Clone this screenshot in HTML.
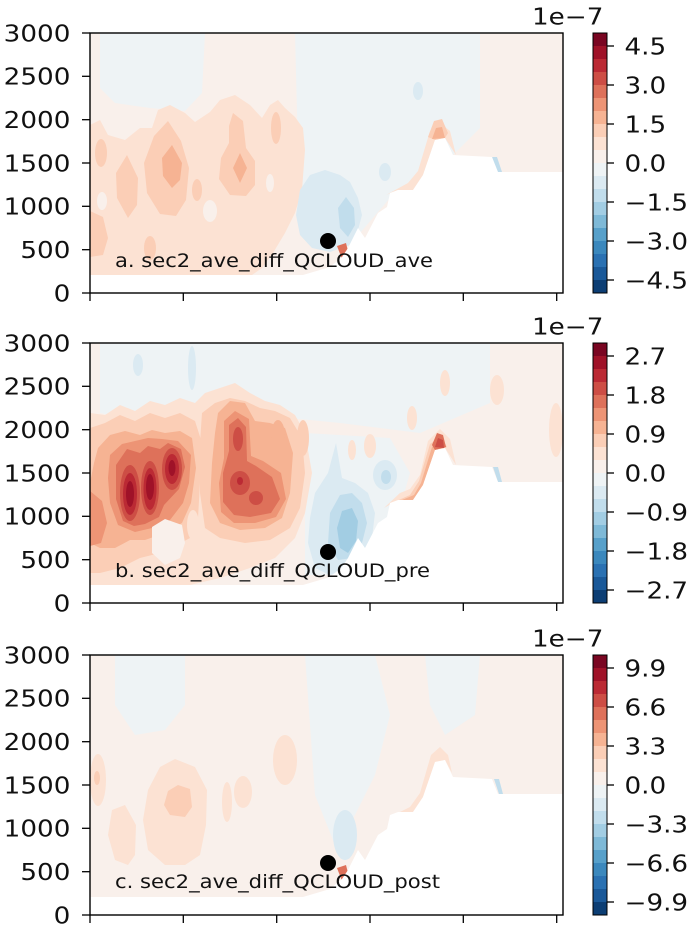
<!DOCTYPE html>
<html><head><meta charset="utf-8">
<style>
html,body{margin:0;padding:0;background:#fff;}
svg{display:block;}
text{font-family:"DejaVu Sans","Liberation Sans",sans-serif;fill:#111;}
.c0{fill:#0c3e74}.c1{fill:#1a5999}.c2{fill:#2a71b2}.c3{fill:#3b88bd}.c4{fill:#57a0ca}
.c5{fill:#7eb9d7}.c6{fill:#a2cde3}.c7{fill:#c1ddec}.c8{fill:#dbeaf2}.c9{fill:#eef3f5}
.c10{fill:#f9f0eb}.c11{fill:#fce2d3}.c12{fill:#fbceb6}.c13{fill:#f6b393}.c14{fill:#ed9475}
.c15{fill:#de715a}.c16{fill:#cd4e45}.c17{fill:#bb2a34}.c18{fill:#9f1228}.c19{fill:#7a0622}
.ax{fill:none;stroke:#000;stroke-width:1.4}
.tk{stroke:#000;stroke-width:1.3}
.tl{font-size:23px}
.an{font-size:19px}
</style></head>
<body>
<svg width="700" height="935" viewBox="0 0 700 935" xmlns="http://www.w3.org/2000/svg">
<defs>
<clipPath id="cl"><rect x="0" y="0" width="473" height="260"/></clipPath>
<g id="mask">
<polygon fill="#fff" points="213,242 240,234 252,224 258,215 268,195 275,205 288,180 297,174 300,160 308,157 323,157 333,142 345,107 355,105 363,122 402,124 408,139 473,139 473,262 0,262 0,242"/>
</g>
<g id="cbar">
<rect x="0" y="0" width="14" height="13" class="c19"/><rect x="0" y="13" width="14" height="13" class="c18"/>
<rect x="0" y="26" width="14" height="13" class="c17"/><rect x="0" y="39" width="14" height="13" class="c16"/>
<rect x="0" y="52" width="14" height="13" class="c15"/><rect x="0" y="65" width="14" height="13" class="c14"/>
<rect x="0" y="78" width="14" height="13" class="c13"/><rect x="0" y="91" width="14" height="13" class="c12"/>
<rect x="0" y="104" width="14" height="13" class="c11"/><rect x="0" y="117" width="14" height="13" class="c10"/>
<rect x="0" y="130" width="14" height="13" class="c9"/><rect x="0" y="143" width="14" height="13" class="c8"/>
<rect x="0" y="156" width="14" height="13" class="c7"/><rect x="0" y="169" width="14" height="13" class="c6"/>
<rect x="0" y="182" width="14" height="13" class="c5"/><rect x="0" y="195" width="14" height="13" class="c4"/>
<rect x="0" y="208" width="14" height="13" class="c3"/><rect x="0" y="221" width="14" height="13" class="c2"/>
<rect x="0" y="234" width="14" height="13" class="c1"/><rect x="0" y="247" width="14" height="13" class="c0"/>
<rect x="0" y="0" width="14" height="260" fill="none" stroke="#000" stroke-width="1"/>
<line class="tk" x1="14" y1="13" x2="21" y2="13"/><line class="tk" x1="14" y1="52" x2="21" y2="52"/>
<line class="tk" x1="14" y1="91" x2="21" y2="91"/><line class="tk" x1="14" y1="130" x2="21" y2="130"/>
<line class="tk" x1="14" y1="169" x2="21" y2="169"/><line class="tk" x1="14" y1="208" x2="21" y2="208"/>
<line class="tk" x1="14" y1="247" x2="21" y2="247"/>
</g>
<g id="frame">
<rect class="ax" x="0" y="0" width="473" height="260"/>
<line class="tk" x1="0" y1="260" x2="0" y2="268"/><line class="tk" x1="93.3" y1="260" x2="93.3" y2="268"/>
<line class="tk" x1="186.7" y1="260" x2="186.7" y2="268"/><line class="tk" x1="280" y1="260" x2="280" y2="268"/>
<line class="tk" x1="373.3" y1="260" x2="373.3" y2="268"/><line class="tk" x1="466.7" y1="260" x2="466.7" y2="268"/>
<line class="tk" x1="0" y1="0" x2="-8" y2="0"/><line class="tk" x1="0" y1="43.3" x2="-8" y2="43.3"/>
<line class="tk" x1="0" y1="86.7" x2="-8" y2="86.7"/><line class="tk" x1="0" y1="130" x2="-8" y2="130"/>
<line class="tk" x1="0" y1="173.3" x2="-8" y2="173.3"/><line class="tk" x1="0" y1="216.7" x2="-8" y2="216.7"/>
<line class="tk" x1="0" y1="260" x2="-8" y2="260"/>
</g>
</defs>

<!-- ================= PANEL 1 ================= -->
<g transform="translate(90,33)">
<g clip-path="url(#cl)">
<rect x="0" y="0" width="473" height="260" class="c10"/>
<polygon class="c9" points="10,0 115,0 112,60 95,78 60,75 25,70 10,55"/>
<polygon class="c9" points="205,0 390,0 390,95 360,125 320,148 300,165 270,200 240,215 215,200 208,120"/>
<!-- orange region -->
<polygon class="c11" points="0,92 10,87 18,102 35,107 50,95 62,95 68,77 80,72 95,80 105,89 120,79 130,67 145,62 160,72 172,85 180,72 188,67 195,75 205,84 213,95 215,117 212,157 205,180 195,200 183,220 172,235 162,242 0,242"/>
<ellipse class="c10" cx="12" cy="168" rx="5" ry="9"/>
<ellipse class="c10" cx="120" cy="178" rx="7" ry="11"/>
<ellipse class="c10" cx="180" cy="150" rx="4" ry="9"/>
<ellipse class="c12" cx="11" cy="120" rx="6" ry="14"/>
<polygon class="c12" points="37,122 48,145 47,172 38,185 27,165 26,140"/>
<polygon class="c12" points="78,88 91,108 99,135 96,167 86,183 70,181 57,160 54,130 64,103"/>
<polygon class="c13" points="82,112 92,130 90,147 82,155 73,143 72,125"/>
<polygon class="c12" points="143,80 153,88 156,115 165,128 165,152 156,163 140,162 129,146 131,125 139,110 139,93"/>
<polygon class="c13" points="150,120 157,135 150,150 143,135"/>
<ellipse class="c12" cx="186" cy="95" rx="5" ry="16"/>
<polygon class="c12" points="0,178 13,184 18,205 13,222 0,224"/>
<ellipse class="c12" cx="107" cy="157" rx="5" ry="11"/>
<ellipse class="c12" cx="60" cy="215" rx="6" ry="12"/>
<!-- blue -->
<polygon class="c8" points="210,157 220,142 235,137 250,142 260,149 268,165 272,182 268,197 260,212 240,219 222,215 210,202 206,182"/>
<polygon class="c7" points="256,164 264,175 265,192 258,204 250,195 248,175"/>
<ellipse class="c8" cx="295" cy="139" rx="6" ry="9"/>
<ellipse class="c8" cx="328" cy="58" rx="5" ry="9"/>
<!-- slope strip -->
<polygon class="c11" points="296,162 318,150 328,138 340,98 350,90 360,98 366,122 355,105 345,107 333,142 323,157 308,157"/>
<polygon class="c12" points="338,104 344,88 352,86 358,100 355,105 345,107"/>
<polygon class="c13" points="342,106 346,95 352,94 355,105"/>
<polygon class="c7" points="402,124 407,124 412,139 407,139"/>
<polygon class="c15" points="247,213 256,210 259,222 252,226"/>
<use href="#mask"/>
</g>
<circle cx="238" cy="208" r="8" fill="#000"/>
<text class="an" x="25" y="234" textLength="318" lengthAdjust="spacingAndGlyphs">a. sec2_ave_diff_QCLOUD_ave</text>
<use href="#frame"/>
</g>
<g transform="translate(593,33)"><use href="#cbar"/></g>
<text class="tl" x="532" y="24.5" textLength="71.4" lengthAdjust="spacingAndGlyphs">1e−7</text>
<text class="tl" x="624.5" y="54.3" textLength="41.7" lengthAdjust="spacingAndGlyphs">4.5</text>
<text class="tl" x="624.5" y="93.3" textLength="41.7" lengthAdjust="spacingAndGlyphs">3.0</text>
<text class="tl" x="624.5" y="132.3" textLength="41.7" lengthAdjust="spacingAndGlyphs">1.5</text>
<text class="tl" x="624.5" y="171.3" textLength="41.7" lengthAdjust="spacingAndGlyphs">0.0</text>
<text class="tl" x="624.5" y="210.3" textLength="63.6" lengthAdjust="spacingAndGlyphs">−1.5</text>
<text class="tl" x="624.5" y="249.3" textLength="63.6" lengthAdjust="spacingAndGlyphs">−3.0</text>
<text class="tl" x="624.5" y="288.3" textLength="63.6" lengthAdjust="spacingAndGlyphs">−4.5</text>
<text class="tl" x="3.7" y="41.3" textLength="66.7" lengthAdjust="spacingAndGlyphs">3000</text>
<text class="tl" x="3.7" y="84.6" textLength="66.7" lengthAdjust="spacingAndGlyphs">2500</text>
<text class="tl" x="3.7" y="128" textLength="66.7" lengthAdjust="spacingAndGlyphs">2000</text>
<text class="tl" x="3.7" y="171.3" textLength="66.7" lengthAdjust="spacingAndGlyphs">1500</text>
<text class="tl" x="3.7" y="214.6" textLength="66.7" lengthAdjust="spacingAndGlyphs">1000</text>
<text class="tl" x="20.4" y="258" textLength="50" lengthAdjust="spacingAndGlyphs">500</text>
<text class="tl" x="53.7" y="301.3" textLength="16.7" lengthAdjust="spacingAndGlyphs">0</text>

<!-- ================= PANEL 2 ================= -->
<g transform="translate(90,343)">
<g clip-path="url(#cl)">
<rect x="0" y="0" width="473" height="260" class="c10"/>
<polygon class="c9" points="10,0 400,0 400,60 330,90 250,80 150,70 60,80 10,70"/>
<polygon class="c9" points="215,90 300,95 320,130 300,200 260,232 215,232"/>
<ellipse class="c8" cx="48" cy="22" rx="5" ry="11"/>
<ellipse class="c8" cx="102" cy="25" rx="4" ry="22"/>
<!-- faint oranges upper right -->
<ellipse class="c11" cx="355" cy="40" rx="5" ry="13"/>
<ellipse class="c11" cx="407" cy="47" rx="7" ry="15"/>
<ellipse class="c11" cx="466" cy="87" rx="7" ry="27"/>
<ellipse class="c11" cx="280" cy="103" rx="6" ry="12"/>
<ellipse class="c11" cx="262" cy="107" rx="4" ry="10"/>
<ellipse class="c11" cx="322" cy="75" rx="5" ry="12"/>
<!-- orange region -->
<polygon class="c11" points="0,70 15,72 30,62 45,68 60,58 75,62 90,55 105,60 115,50 130,45 145,40 160,50 175,58 190,62 205,72 215,90 222,130 215,170 205,195 185,215 160,225 130,235 100,242 0,242"/>
<polygon class="c12" points="0,85 15,80 30,72 45,78 60,70 75,75 90,70 105,78 112,100 110,140 108,175 100,195 85,203 70,210 50,215 30,225 10,230 0,230"/>
<polygon class="c12" points="112,70 125,60 140,55 155,58 170,65 185,68 200,75 212,95 215,130 210,165 200,185 180,197 155,200 130,195 115,185 110,150 110,100"/>
<ellipse class="c12" cx="213" cy="95" rx="6" ry="18"/>
<polygon class="c13" points="8,105 20,92 35,88 50,92 62,87 75,90 90,88 102,95 106,125 101,160 92,180 75,190 55,197 40,197 25,205 10,205 0,200 0,140 4,120"/>
<polygon class="c13" points="128,70 140,58 155,60 165,78 180,80 195,85 203,110 200,150 192,175 175,185 150,187 130,180 120,160 122,120 125,90"/>
<ellipse class="c13" cx="188" cy="93" rx="7" ry="16"/>
<polygon class="c14" points="20,112 32,101 45,98 58,95 72,96 88,98 101,112 99,140 93,160 80,177 62,185 45,189 28,182 20,160 18,135"/>
<polygon class="c14" points="134,78 145,68 159,76 161,113 173,118 191,130 196,156 186,174 165,180 144,180 131,169 129,140 134,115"/>
<polygon class="c14" points="0,148 12,158 17,180 11,200 0,203"/>
<polygon class="c15" points="26,122 37,106 50,110 58,103 70,106 78,100 91,106 95,124 89,146 74,162 69,174 55,181 44,183 33,178 26,156"/>
<polygon class="c15" points="139,82 148,75 156,84 157,118 166,123 182,134 190,156 181,170 160,174 144,172 133,159 133,130 139,108"/>
<ellipse class="c16" cx="40" cy="150" rx="10" ry="28"/>
<ellipse class="c16" cx="60" cy="145" rx="9" ry="27"/>
<ellipse class="c16" cx="82" cy="126" rx="10" ry="21"/>
<ellipse class="c16" cx="148" cy="96" rx="5" ry="12"/>
<ellipse class="c16" cx="150" cy="140" rx="10" ry="12"/>
<ellipse class="c16" cx="166" cy="155" rx="7" ry="7"/>
<ellipse class="c17" cx="40" cy="151" rx="7" ry="21"/>
<ellipse class="c17" cx="60" cy="146" rx="6.5" ry="21"/>
<ellipse class="c17" cx="82" cy="126" rx="7" ry="15"/>
<ellipse class="c17" cx="150" cy="138" rx="3" ry="4"/>
<ellipse class="c18" cx="40" cy="151" rx="4" ry="13"/>
<ellipse class="c18" cx="60" cy="144" rx="4" ry="13"/>
<ellipse class="c18" cx="82" cy="125" rx="3.5" ry="8"/>
<polygon class="c10" points="62,184 75,176 92,182 95,200 90,215 75,222 62,210"/>
<ellipse class="c11" cx="103" cy="182" rx="6" ry="15"/>
<!-- blue -->
<polygon class="c8" points="225,150 238,130 246,100 252,135 265,140 278,150 285,170 282,195 270,215 258,225 240,232 225,225 218,200 220,175"/>
<polygon class="c7" points="240,170 250,152 262,150 272,160 277,180 272,200 262,215 248,217 238,200"/>
<polygon class="c6" points="247,185 252,168 262,165 268,178 266,198 258,210 250,205"/>
<ellipse class="c8" cx="295" cy="132" rx="12" ry="15"/>
<ellipse class="c7" cx="296" cy="134" rx="5" ry="7"/>
<!-- slope -->
<polygon class="c11" points="294,165 310,150 320,146 330,132 338,98 350,86 360,96 366,122 355,105 345,107 333,142 323,157 308,157"/>
<polygon class="c12" points="302,160 320,152 329,138 340,101 351,93 357,104 355,105 345,107 333,142 323,157 308,157"/>
<polygon class="c13" points="312,157 324,152 331,140 342,104 353,97 355,105 345,107 333,142 323,157"/>
<polygon class="c15" points="342,102 347,90 353,92 356,104 345,107"/>
<polygon class="c16" points="345,104 348,95 353,97 354,105"/>
<polygon class="c7" points="403,124 408,124 412,139 408,139"/>
<use href="#mask"/>
</g>
<circle cx="238" cy="209" r="8" fill="#000"/>
<text class="an" x="25" y="234" textLength="315" lengthAdjust="spacingAndGlyphs">b. sec2_ave_diff_QCLOUD_pre</text>
<use href="#frame"/>
</g>
<g transform="translate(593,343)"><use href="#cbar"/></g>
<text class="tl" x="532" y="334.5" textLength="71.4" lengthAdjust="spacingAndGlyphs">1e−7</text>
<text class="tl" x="624.5" y="364.3" textLength="41.7" lengthAdjust="spacingAndGlyphs">2.7</text>
<text class="tl" x="624.5" y="403.3" textLength="41.7" lengthAdjust="spacingAndGlyphs">1.8</text>
<text class="tl" x="624.5" y="442.3" textLength="41.7" lengthAdjust="spacingAndGlyphs">0.9</text>
<text class="tl" x="624.5" y="481.3" textLength="41.7" lengthAdjust="spacingAndGlyphs">0.0</text>
<text class="tl" x="624.5" y="520.3" textLength="63.6" lengthAdjust="spacingAndGlyphs">−0.9</text>
<text class="tl" x="624.5" y="559.3" textLength="63.6" lengthAdjust="spacingAndGlyphs">−1.8</text>
<text class="tl" x="624.5" y="598.3" textLength="63.6" lengthAdjust="spacingAndGlyphs">−2.7</text>
<text class="tl" x="3.7" y="351.3" textLength="66.7" lengthAdjust="spacingAndGlyphs">3000</text>
<text class="tl" x="3.7" y="394.6" textLength="66.7" lengthAdjust="spacingAndGlyphs">2500</text>
<text class="tl" x="3.7" y="438" textLength="66.7" lengthAdjust="spacingAndGlyphs">2000</text>
<text class="tl" x="3.7" y="481.3" textLength="66.7" lengthAdjust="spacingAndGlyphs">1500</text>
<text class="tl" x="3.7" y="524.6" textLength="66.7" lengthAdjust="spacingAndGlyphs">1000</text>
<text class="tl" x="20.4" y="568" textLength="50" lengthAdjust="spacingAndGlyphs">500</text>
<text class="tl" x="53.7" y="611.3" textLength="16.7" lengthAdjust="spacingAndGlyphs">0</text>

<!-- ================= PANEL 3 ================= -->
<g transform="translate(90,655)">
<g clip-path="url(#cl)">
<rect x="0" y="0" width="473" height="260" class="c10"/>
<polygon class="c9" points="25,0 95,0 95,50 75,75 45,80 25,50"/>
<polygon class="c9" points="215,0 285,0 300,60 285,120 265,160 245,190 225,140"/>
<polygon class="c9" points="335,0 390,0 385,60 355,80 340,50"/>
<ellipse class="c11" cx="8" cy="125" rx="8" ry="26"/>
<ellipse class="c12" cx="7" cy="123" rx="3" ry="7"/>
<polygon class="c11" points="22,155 35,150 46,170 45,200 38,210 25,205 18,180"/>
<polygon class="c11" points="85,104 105,112 117,135 116,170 110,200 95,210 75,210 58,195 53,165 58,135 70,112"/>
<polygon class="c12" points="88,130 100,134 102,152 95,162 80,160 74,150 78,136"/>
<ellipse class="c11" cx="137" cy="147" rx="5" ry="20"/>
<ellipse class="c11" cx="153" cy="137" rx="9" ry="16"/>
<ellipse class="c11" cx="195" cy="105" rx="12" ry="25"/>
<ellipse class="c8" cx="255" cy="180" rx="12" ry="25"/>
<polygon class="c11" points="300,162 320,152 330,138 341,100 350,92 358,100 362,118 355,105 345,107 333,142 323,157 308,157"/>
<polygon class="c7" points="404,124 409,124 413,139 409,139"/>
<polygon class="c15" points="247,213 256,210 259,222 252,226"/>
<use href="#mask"/>
</g>
<circle cx="238" cy="208" r="8" fill="#000"/>
<text class="an" x="25" y="233" textLength="325" lengthAdjust="spacingAndGlyphs">c. sec2_ave_diff_QCLOUD_post</text>
<use href="#frame"/>
</g>
<g transform="translate(593,655)"><use href="#cbar"/></g>
<text class="tl" x="532" y="646.5" textLength="71.4" lengthAdjust="spacingAndGlyphs">1e−7</text>
<text class="tl" x="624.5" y="676.3" textLength="41.7" lengthAdjust="spacingAndGlyphs">9.9</text>
<text class="tl" x="624.5" y="715.3" textLength="41.7" lengthAdjust="spacingAndGlyphs">6.6</text>
<text class="tl" x="624.5" y="754.3" textLength="41.7" lengthAdjust="spacingAndGlyphs">3.3</text>
<text class="tl" x="624.5" y="793.3" textLength="41.7" lengthAdjust="spacingAndGlyphs">0.0</text>
<text class="tl" x="624.5" y="832.3" textLength="63.6" lengthAdjust="spacingAndGlyphs">−3.3</text>
<text class="tl" x="624.5" y="871.3" textLength="63.6" lengthAdjust="spacingAndGlyphs">−6.6</text>
<text class="tl" x="624.5" y="910.3" textLength="63.6" lengthAdjust="spacingAndGlyphs">−9.9</text>
<text class="tl" x="3.7" y="663.3" textLength="66.7" lengthAdjust="spacingAndGlyphs">3000</text>
<text class="tl" x="3.7" y="706.6" textLength="66.7" lengthAdjust="spacingAndGlyphs">2500</text>
<text class="tl" x="3.7" y="750" textLength="66.7" lengthAdjust="spacingAndGlyphs">2000</text>
<text class="tl" x="3.7" y="793.3" textLength="66.7" lengthAdjust="spacingAndGlyphs">1500</text>
<text class="tl" x="3.7" y="836.6" textLength="66.7" lengthAdjust="spacingAndGlyphs">1000</text>
<text class="tl" x="20.4" y="880" textLength="50" lengthAdjust="spacingAndGlyphs">500</text>
<text class="tl" x="53.7" y="923.3" textLength="16.7" lengthAdjust="spacingAndGlyphs">0</text>
</svg>
</body></html>
